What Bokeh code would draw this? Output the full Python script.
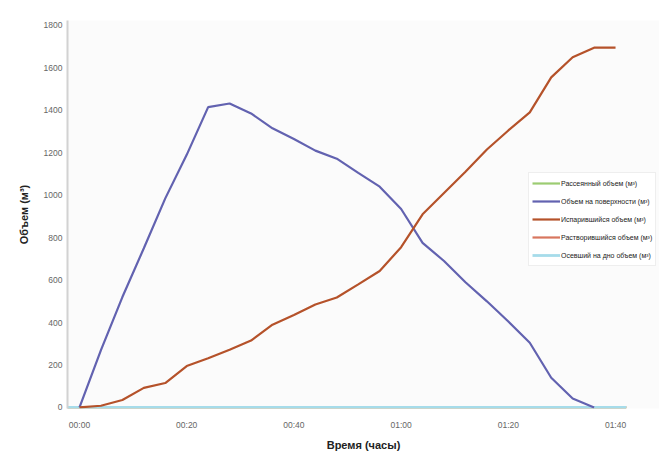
from bokeh.plotting import figure
from bokeh.models import Range1d, FixedTicker, Legend, LegendItem, Title
from bokeh.embed import file_html
from bokeh.resources import INLINE

# Time in minutes
t_surface = [0, 4, 8, 12, 16, 20, 24, 28, 32, 36, 40, 44, 48, 52, 56, 60, 64, 68, 72, 76, 80, 84, 88, 92, 96]
v_surface = [0, 270, 520, 750, 985, 1190, 1415, 1432, 1385, 1315, 1265, 1210, 1172, 1105, 1040, 935, 775, 690, 590, 500, 405, 305, 140, 42, 0]

t_evap = [0, 4, 8, 12, 16, 20, 24, 28, 32, 36, 40, 44, 48, 52, 56, 60, 64, 68, 72, 76, 80, 84, 88, 92, 96, 100]
v_evap = [0, 8, 35, 92, 115, 195, 232, 272, 315, 390, 435, 485, 518, 580, 643, 755, 910, 1010, 1110, 1215, 1305, 1390, 1555, 1650, 1695, 1695]

t_zero = [-2.3, 0, 20, 40, 60, 80, 100, 102]
v_dispersed = [0, 0, 0, 0, 0, 0, 0, 0]
v_dissolved = [0, 0, 0, 0, 0, 0, 0, 0]
v_settled = [0, 0, 0, 0, 0, 0, 0, 0]

x_ticks = [0, 20, 40, 60, 80, 100]
x_tick_labels = ["00:00", "00:20", "00:40", "01:00", "01:20", "01:40"]
y_ticks = [0, 200, 400, 600, 800, 1000, 1200, 1400, 1600, 1800]

names = ["Рассеянный объем (м³)", "Объем на поверхности (м³)", "Испарившийся объем (м³)",
         "Растворившийся объем (м³)", "Осевший на дно объем (м³)"]
colors = ["#9ccc72", "#6262b0", "#b5522a", "#d8765e", "#a6dcea"]

p = figure(frame_width=592, frame_height=388, output_backend="svg", toolbar_location=None,
           x_range=Range1d(-2.24, 108.2), y_range=Range1d(-5, 1823),
           min_border_left=67, min_border_right=0, min_border_top=20, min_border_bottom=0)
p.background_fill_color = "#fbfbfb"
p.border_fill_color = "white"
p.outline_line_color = None
p.xgrid.visible = False
p.ygrid.visible = False

r_disp = p.line(t_zero, v_dispersed, line_color=colors[0], line_width=2.2)
r_diss = p.line(t_zero, v_dissolved, line_color=colors[3], line_width=2.2)
r_set = p.line(t_zero, v_settled, line_color=colors[4], line_width=2.8)
r_surf = p.line(t_surface, v_surface, line_color=colors[1], line_width=2.2)
r_evap = p.line(t_evap, v_evap, line_color=colors[2], line_width=2.2)

tick_font = "Liberation Sans"
p.xaxis.ticker = FixedTicker(ticks=x_ticks)
p.xaxis.major_label_overrides = {k: v for k, v in zip(x_ticks, x_tick_labels)}
p.yaxis.ticker = FixedTicker(ticks=y_ticks)
for ax in (p.xaxis, p.yaxis):
    ax.major_tick_line_color = None
    ax.minor_tick_line_color = None
    ax.major_tick_out = 0
    ax.major_tick_in = 0
    ax.minor_tick_out = 0
    ax.minor_tick_in = 0
    ax.major_label_text_font = tick_font
    ax.major_label_text_font_size = "8.5px"
    ax.major_label_text_color = "#666666"
    ax.axis_label_text_font = "Liberation Sans"
    ax.axis_label_text_font_style = "bold"
    ax.axis_label_text_font_size = "11px"
    ax.axis_label_text_color = "#222222"
p.xaxis.axis_line_color = None
p.yaxis.axis_line_color = "#d2d2d2"
p.yaxis.axis_line_width = 2
p.xaxis.major_label_standoff = 11
p.yaxis.major_label_standoff = 5
p.yaxis.axis_label = "Объем (м³)"
p.yaxis.axis_label_standoff = 11

xt = Title(text="Время (часы)", align="center", offset=-17, standoff=8,
           text_font="Liberation Sans", text_font_style="bold", text_font_size="11px",
           text_color="#222222")
p.add_layout(xt, "below")

legend = Legend(items=[
    LegendItem(label=names[0], renderers=[r_disp]),
    LegendItem(label=names[1], renderers=[r_surf]),
    LegendItem(label=names[2], renderers=[r_evap]),
    LegendItem(label=names[3], renderers=[r_diss]),
    LegendItem(label=names[4], renderers=[r_set]),
], location=(461, 142))
legend.label_text_font = "Liberation Sans"
legend.label_text_font_size = "7px"
legend.label_text_color = "#222222"
legend.glyph_width = 28
legend.glyph_height = 14
legend.label_height = 14
legend.label_standoff = 1
legend.spacing = 4
legend.padding = 3
legend.margin = 0
legend.border_line_color = "#dddddd"
legend.background_fill_color = "white"
legend.background_fill_alpha = 1.0
p.add_layout(legend)

open("out.html", "w").write(file_html(p, INLINE))
